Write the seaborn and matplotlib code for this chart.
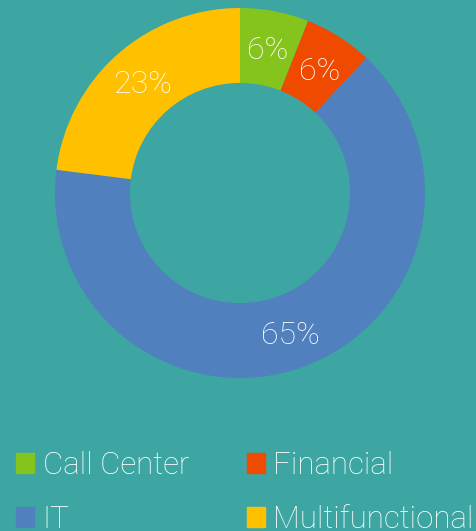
import matplotlib
matplotlib.use("Agg")
import matplotlib.pyplot as plt
import matplotlib.patches as mpatches
import numpy as np
import seaborn as sns

categories = ["Call Center", "Financial", "IT", "Multifunctional"]
values = [6, 6, 65, 23]
pct_labels = ["6%", "6%", "65%", "23%"]
colors = ["#84c41c", "#f04a00", "#5080bd", "#ffc000"]

BG = "#3da6a2"
FONT = ["Roboto", "Lato", "DejaVu Sans"]

sns.set_theme(style="white")
plt.rcParams["font.family"] = FONT

fig = plt.figure(figsize=(4.77, 5.31), dpi=100, facecolor=BG)
ax = fig.add_axes([55/477, (531-378)/531, 370/477, 370/531])
ax.set_facecolor(BG)

wedges, _ = ax.pie(values, colors=sns.color_palette(colors), startangle=90,
                   counterclock=False, radius=1.0,
                   wedgeprops=dict(width=0.405, linewidth=0))
for w, lab in zip(wedges, pct_labels):
    ang = np.deg2rad((w.theta1 + w.theta2) / 2)
    r = 0.8
    ax.text(r*np.cos(ang), r*np.sin(ang), lab, ha="center", va="center_baseline",
            color="white", fontsize=23, fontweight="light")
ax.set_xlim(-1, 1)
ax.set_ylim(-1, 1)
ax.set_aspect("equal")
ax.axis("off")

order = [0, 2, 1, 3]
handles = [mpatches.Patch(color=colors[i]) for i in order]
labels = [categories[i] for i in order]
leg = fig.legend(handles, labels, loc="upper left", bbox_to_anchor=(16/477, 1 - 451/531),
                 ncol=2, frameon=False, handlelength=0.58, handleheight=0.58,
                 handletextpad=0.27, columnspacing=1.85, labelspacing=0.8,
                 borderpad=0, borderaxespad=0,
                 prop=dict(family=FONT, size=22.5, weight="light"))
for t in leg.get_texts():
    t.set_color("white")

fig.savefig("out.png", dpi=100, facecolor=BG)
